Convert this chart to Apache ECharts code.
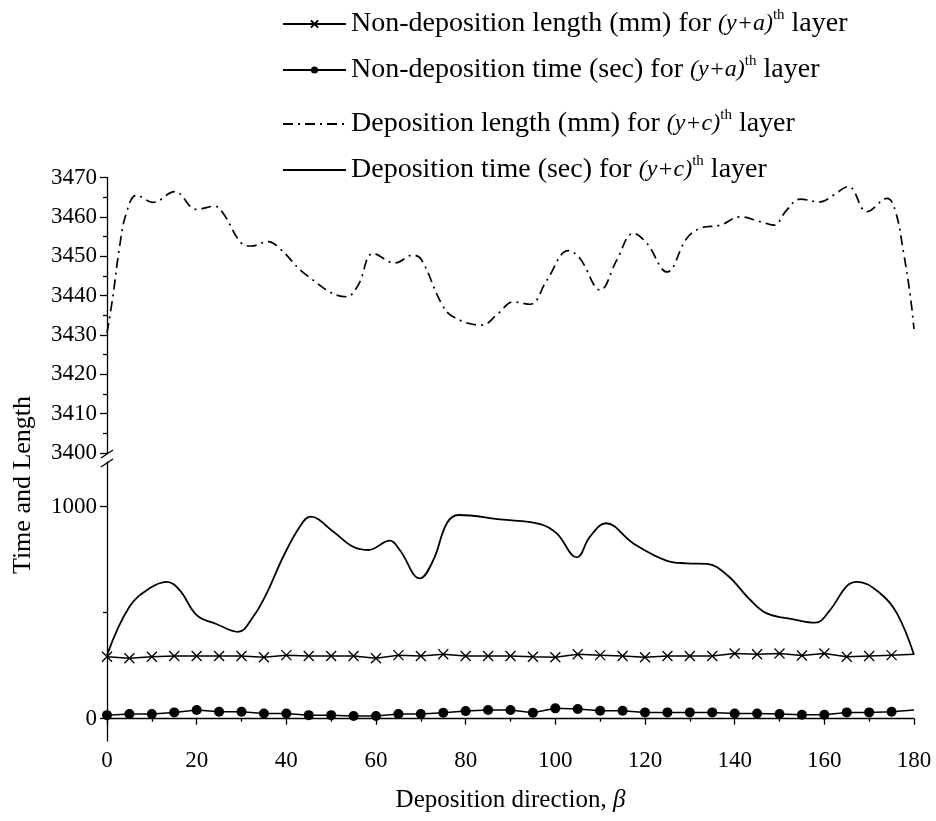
<!DOCTYPE html>
<html><head><meta charset="utf-8">
<script src="https://cdn.jsdelivr.net/npm/echarts@6/dist/echarts.min.js"></script>
<style>html,body{margin:0;padding:0;background:#fff}#c{width:936px;height:821px}</style>
</head><body><div id="c"></div>
<script>
// ---- data ----
const seriesNames = [
  'Non-deposition length (mm)',
  'Non-deposition time (sec)',
  'Deposition length (mm)',
  'Deposition time (sec)'
];
const betaMarks = [0,5,10,15,20,25,30,35,40,45,50,55,60,65,70,75,80,85,90,95,100,105,110,115,120,125,130,135,140,145,150,155,160,165,170,175,180];
const nonDepLength = [292,285,292,296,296,296,296,290,300,296,296,296,285,300,296,304,296,296,296,292,290,304,300,296,290,296,296,296,308,304,308,298,308,292,296,300,304];
const nonDepTime = [17,22,22,30,41,33,33,25,25,17,17,13,13,22,22,28,36,41,41,28,49,46,38,38,30,30,30,30,25,25,22,19,19,30,30,33,41];
const depLengthBeta = [0,1.3,2.8,4.3,6.6,10.3,15.1,20,24,25.9,30,32.2,35.9,38.5,44.5,53.4,56,59.4,64.2,68.3,70.2,74.6,77.2,83.6,87.2,90.6,94.4,98.1,102.9,105.5,110,113.7,117.4,120.4,124.9,129.3,132.3,136.8,141.2,145.7,148.7,151.6,154.6,159.1,162,165.4,169.5,174,175.8,177.7,179.2,180];
const depLengthVal = [3430.5,3439.7,3452.4,3460.9,3465.5,3463.7,3466.4,3461.9,3462.7,3460.9,3453.3,3452.6,3453.7,3452.0,3445.2,3439.7,3442.6,3450.7,3448.3,3450.3,3449,3438,3434.6,3432.5,3435.4,3438.4,3437.8,3443.9,3451.4,3449.4,3441.4,3449,3455.8,3453.3,3446,3454.5,3457.1,3457.9,3460,3458.8,3457.9,3461.7,3464.5,3463.8,3465.5,3467.7,3461.3,3464.7,3461.7,3450.7,3439.7,3431.5];
const depTimeBeta = [0,5,9.5,13.3,16.2,20,24.4,29.2,32.6,35.6,39.3,43,45.4,50.5,54.9,58.3,63.1,65.3,69.8,72.8,75.8,78.4,87.7,96.6,100.3,104.8,107.7,111.3,117.4,124.9,129.3,133.8,138.3,143.5,147.2,153.1,158,161.3,165,167.3,172.5,176.2,180];
const depTimeVal = [300,528,615,646,607,489,447,410,481,591,764,906,953,882,811,796,840,796,662,749,922,961,940,918,874,761,858,922,827,745,733,730,678,560,497,469,453,513,626,646,591,497,302];
const legendTexts = [
  'Non-deposition length (mm) for {i|(y+a)}{s|th} layer',
  'Non-deposition time (sec) for {i|(y+a)}{s|th} layer',
  'Deposition length (mm) for {i|(y+c)}{s|th} layer',
  'Deposition time (sec) for {i|(y+c)}{s|th} layer'
];

// ---- chart ----
const FONT = '"Liberation Serif","Times New Roman",serif';
const chart = echarts.init(document.getElementById('c'));
const xMark = 'path://M0,0L10,10M10,0L0,10';
const legendTops = [3, 49, 103, 149];
const legendHideSymbol = [false, false, true, true];
const richStyle = {
  i: {fontFamily: FONT, fontSize: 24, fontStyle: 'italic', color: '#000'},
  s: {fontFamily: FONT, fontSize: 15, color: '#000', verticalAlign: 'top', lineHeight: 15}
};
const plain = v => String(v);
const lastIdx = betaMarks.length - 1;

const option = {
  animation: false,
  backgroundColor: '#fff',
  textStyle: {fontFamily: FONT, color: '#000'},
  grid: [
    {left: 107, right: 22, top: 177.5, height: 275.5, containLabel: false},
    {left: 107, right: 22, top: 462, height: 279, containLabel: false}
  ],
  xAxis: [
    {type: 'value', gridIndex: 0, min: 0, max: 180, show: false},
    {type: 'value', gridIndex: 1, min: 0, max: 180, interval: 20,
     axisLine: {lineStyle: {color: '#000', width: 1.3}},
     axisTick: {length: 6, lineStyle: {color: '#000', width: 1.3}},
     minorTick: {show: true, splitNumber: 2, length: 3, lineStyle: {color: '#000', width: 1.3}},
     splitLine: {show: false},
     axisLabel: {fontFamily: FONT, fontSize: 23, color: '#000', margin: 8, formatter: plain},
     name: 'Deposition direction, {b|β}', nameLocation: 'middle', nameGap: 47,
     nameTextStyle: {fontFamily: FONT, fontSize: 25, color: '#000',
       rich: {b: {fontFamily: FONT, fontSize: 25, fontStyle: 'italic', color: '#000'}}}
    }
  ],
  yAxis: [
    {type: 'value', gridIndex: 0, min: 3400, max: 3470, interval: 10, position: 'left',
     axisLine: {show: true, lineStyle: {color: '#000', width: 1.3}},
     axisTick: {show: true, length: 7, lineStyle: {color: '#000', width: 1.3}},
     minorTick: {show: true, splitNumber: 2, length: 4, lineStyle: {color: '#000', width: 1.3}},
     splitLine: {show: false},
     axisLabel: {fontFamily: FONT, fontSize: 23, color: '#000', margin: 10, formatter: plain}
    },
    {type: 'value', gridIndex: 1, min: -105, max: 1211, position: 'left',
     axisLine: {show: true, lineStyle: {color: '#000', width: 1.3}},
     axisTick: {show: true, length: 7, customValues: [0, 1000], lineStyle: {color: '#000', width: 1.3}},
     splitLine: {show: false},
     axisLabel: {fontFamily: FONT, fontSize: 23, color: '#000', margin: 10, customValues: [0, 1000], formatter: plain}
    },
    {type: 'value', gridIndex: 1, min: -105, max: 1211, position: 'left', offset: 0,
     axisLine: {show: false},
     axisTick: {show: true, length: 4, customValues: [500], lineStyle: {color: '#000', width: 1.3}},
     splitLine: {show: false},
     axisLabel: {show: false}
    }
  ],
  legend: seriesNames.map((n, i) => {
    const lg = {
      data: [n], left: 277, top: legendTops[i], orient: 'vertical',
      itemWidth: 63, itemHeight: 9, itemGap: 0,
      textStyle: {fontFamily: FONT, fontSize: 28, color: '#000', lineHeight: 32, rich: richStyle},
      formatter: () => legendTexts[i],
      selectedMode: false
    };
    if (legendHideSymbol[i]) lg.itemStyle = {color: 'rgba(0,0,0,0)', borderWidth: 0, opacity: 0};
    return lg;
  }),
  graphic: [
    {type: 'text', x: 23, y: 485, rotation: Math.PI / 2,
     style: {text: 'Time and Length', fontFamily: FONT, fontSize: 26, fill: '#000', align: 'center', verticalAlign: 'middle'}},
    {type: 'line', shape: {x1: 101, y1: 458, x2: 113, y2: 450}, style: {stroke: '#000', lineWidth: 1.3}},
    {type: 'line', shape: {x1: 101, y1: 467, x2: 113, y2: 459}, style: {stroke: '#000', lineWidth: 1.3}}
  ],
  series: [
    {name: seriesNames[0], type: 'line', xAxisIndex: 1, yAxisIndex: 1,
     data: betaMarks.map((b, i) => i === lastIdx ? {value: [b, nonDepLength[i]], symbol: 'none'} : [b, nonDepLength[i]]),
     symbol: xMark, symbolSize: 10, showAllSymbol: true,
     itemStyle: {color: '#000', borderColor: '#000', borderWidth: 1.3},
     lineStyle: {color: '#000', width: 1.5}, z: 3},
    {name: seriesNames[1], type: 'line', xAxisIndex: 1, yAxisIndex: 1,
     data: betaMarks.map((b, i) => i === lastIdx ? {value: [b, nonDepTime[i]], symbol: 'none'} : [b, nonDepTime[i]]),
     symbol: 'circle', symbolSize: 10, showAllSymbol: true,
     itemStyle: {color: '#000'},
     lineStyle: {color: '#000', width: 1.5}, z: 3},
    {name: seriesNames[2], type: 'line', xAxisIndex: 0, yAxisIndex: 0,
     data: depLengthBeta.map((b, i) => [b, depLengthVal[i]]),
     symbol: 'none', smooth: 0.4,
     itemStyle: {color: '#000'},
     lineStyle: {color: '#000', width: 1.7, type: [10, 5, 2, 5]}},
    {name: seriesNames[3], type: 'line', xAxisIndex: 1, yAxisIndex: 1,
     data: depTimeBeta.map((b, i) => [b, depTimeVal[i]]),
     symbol: 'none', smooth: 0.4,
     itemStyle: {color: '#000'},
     lineStyle: {color: '#000', width: 1.8}}
  ]
};
chart.setOption(option);
</script>
</body></html>
